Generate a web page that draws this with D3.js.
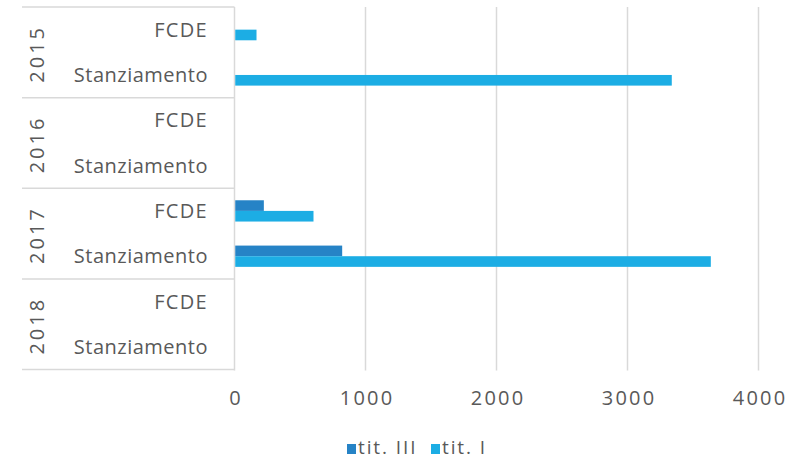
<!DOCTYPE html>
<html><head><meta charset="utf-8">
<script src="https://cdn.jsdelivr.net/npm/d3@7"></script>
<style>
body{margin:0;background:#fff;}
text{font-family:"Open Sans",sans-serif;fill:#595959;}
</style></head>
<body><svg id="c" width="792" height="460"></svg>
<script>
const years = ["2015","2016","2017","2018"];
const subCats = ["FCDE","Stanziamento"];
const seriesNames = ["tit. III","tit. I"];
const seriesColors = ["#2683C6","#1CADE4"];
// values per year x subcategory, order: FCDE, Stanziamento
const titIII = [[0,0],[0,0],[224,822],[0,0]];
const titI   = [[168,3338],[0,0],[603,3636],[0,0]];
const xTicks = [0,1000,2000,3000,4000];

(function(){
const svg = d3.select("#c");
const fs = 20;
const ls = "0.5px";
const pL = 234.5, pR = 758.5, pT = 7, pB = 369.5;

const x = d3.scaleLinear().domain([0,4000]).range([pL,pR]);
const cats = [];
years.forEach(y=>subCats.forEach(s=>cats.push(y+"|"+s)));
const yb = d3.scaleBand().domain(cats).range([pT,pB]).paddingInner(0).paddingOuter(0);
const yYear = d3.scaleBand().domain(years).range([pT,pB]);
const inner = d3.scaleBand().domain(seriesNames).range([0,yb.bandwidth()]).paddingInner(0).paddingOuter(1.13);

// gridlines
svg.append("g").selectAll("line").data(xTicks).join("line")
  .attr("x1",d=>x(d)).attr("x2",d=>x(d)).attr("y1",pT).attr("y2",pB+1)
  .attr("stroke","#d9d9d9").attr("stroke-width",1.5);

// year separators
const seps = years.map(y=>yYear(y)).concat([pB]);
svg.append("g").selectAll("line").data(seps).join("line")
  .attr("x1",22).attr("x2",pL).attr("y1",d=>d).attr("y2",d=>d)
  .attr("stroke","#d9d9d9").attr("stroke-width",1.5);

// bars
const rows = [];
years.forEach((y,i)=>subCats.forEach((s,j)=>{
  rows.push({cat:y+"|"+s, series:"tit. III", v:titIII[i][j], c:seriesColors[0]});
  rows.push({cat:y+"|"+s, series:"tit. I", v:titI[i][j], c:seriesColors[1]});
}));
svg.append("g").selectAll("rect").data(rows.filter(r=>r.v>0)).join("rect")
  .attr("x",x(0)+0.75).attr("y",d=>yb(d.cat)+inner(d.series))
  .attr("width",d=>x(d.v)-x(0)-0.75).attr("height",inner.bandwidth())
  .attr("fill",d=>d.c);

// category labels
svg.append("g").selectAll("text").data(cats).join("text")
  .attr("x",208).attr("y",d=>yb(d)+yb.bandwidth()/2).attr("dy","0.36em")
  .attr("text-anchor","end").attr("font-size",fs)
  .attr("letter-spacing",d=>d.endsWith("FCDE")?"1.3px":ls)
  .text(d=>d.split("|")[1]);

// year labels
svg.append("g").selectAll("text").data(years).join("text")
  .attr("transform",d=>`translate(37,${yYear(d)+yYear.bandwidth()/2+1.5}) rotate(-90)`)
  .attr("dy","0.36em").attr("text-anchor","middle").attr("font-size",fs).attr("letter-spacing","3px")
  .text(d=>d);

// x axis labels
const xAxis = d3.axisBottom(x).tickValues(xTicks).tickSize(0).tickPadding(0).tickFormat(d3.format("d"));
const ax = svg.append("g").attr("transform",`translate(0,398)`).call(xAxis);
ax.select(".domain").remove();
ax.selectAll("text").attr("font-size",fs).attr("dy","0.36em").attr("dx","1.1px").attr("letter-spacing","2.2px")
  .style("font-family","'Open Sans',sans-serif").attr("fill","#595959");

// legend
const lg = svg.append("g");
const legX = [347,431];
seriesNames.forEach((n,i)=>{
  lg.append("rect").attr("x",legX[i]).attr("y",444).attr("width",9).attr("height",10).attr("fill",seriesColors[i]);
  lg.append("text").attr("x",legX[i]+11).attr("y",447).attr("dy","0.36em").attr("font-size",19).attr("letter-spacing","1.9px").text(n);
});
})();
</script></body></html>
